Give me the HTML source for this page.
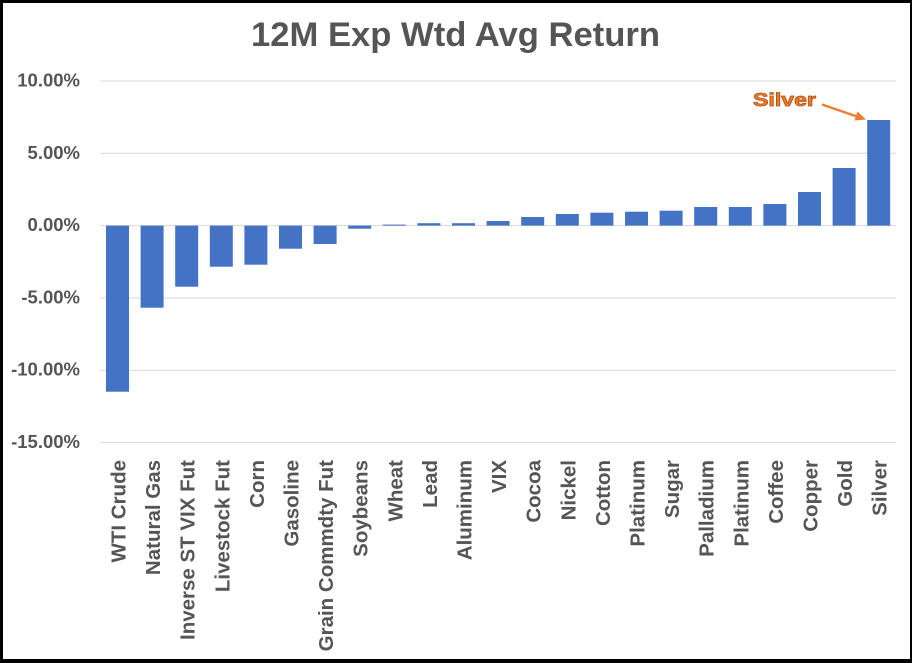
<!DOCTYPE html>
<html>
<head>
<meta charset="utf-8">
<style>
  html,body{margin:0;padding:0;background:#fff;}
  svg{display:block;}
  text{font-family:"Liberation Sans",Arial,sans-serif;font-weight:bold;}
</style>
</head>
<body>
<svg width="912" height="663" viewBox="0 0 912 663" xmlns="http://www.w3.org/2000/svg">
  <rect x="0" y="0" width="912" height="663" fill="#000"/>
  <rect x="3" y="3" width="907" height="656" fill="#fff"/>

  <!-- title -->
  <text x="251" y="46" font-size="34" fill="#555555" textLength="409" lengthAdjust="spacingAndGlyphs">12M Exp Wtd Avg Return</text>

  <!-- gridlines -->
  <g stroke="#d9d9d9" stroke-width="1">
    <line x1="100" y1="81" x2="896" y2="81"/>
    <line x1="100" y1="153.3" x2="896" y2="153.3"/>
    <line x1="100" y1="225.6" x2="896" y2="225.6"/>
    <line x1="100" y1="297.9" x2="896" y2="297.9"/>
    <line x1="100" y1="370.2" x2="896" y2="370.2"/>
    <line x1="100" y1="442.5" x2="896" y2="442.5"/>
  </g>

  <!-- y labels -->
  <g font-size="18.5" fill="#555555" text-anchor="end">
    <text x="80" y="86.5">10.00%</text>
    <text x="80" y="158.8">5.00%</text>
    <text x="80" y="231.1">0.00%</text>
    <text x="80" y="303.4">-5.00%</text>
    <text x="80" y="375.7">-10.00%</text>
    <text x="80" y="448">-15.00%</text>
  </g>

  <!-- bars -->
  <g fill="#4472C4">
    <rect x="106" y="225.6" width="23" height="166.1"/>
    <rect x="140.6" y="225.6" width="23" height="82.1"/>
    <rect x="175.2" y="225.6" width="23" height="61.1"/>
    <rect x="209.8" y="225.6" width="23" height="41.1"/>
    <rect x="244.4" y="225.6" width="23" height="39.1"/>
    <rect x="279" y="225.6" width="23" height="23.1"/>
    <rect x="313.6" y="225.6" width="23" height="18.4"/>
    <rect x="348.2" y="225.6" width="23" height="3.1"/>
    <rect x="382.8" y="224.6" width="23" height="1"/>
    <rect x="417.4" y="223.2" width="23" height="2.4"/>
    <rect x="452" y="223.2" width="23" height="2.4"/>
    <rect x="486.6" y="221" width="23" height="4.6"/>
    <rect x="521.2" y="217" width="23" height="8.6"/>
    <rect x="555.8" y="214" width="23" height="11.6"/>
    <rect x="590.4" y="212.7" width="23" height="12.9"/>
    <rect x="625" y="211.7" width="23" height="13.9"/>
    <rect x="659.6" y="210.7" width="23" height="14.9"/>
    <rect x="694.2" y="207" width="23" height="18.6"/>
    <rect x="728.8" y="207" width="23" height="18.6"/>
    <rect x="763.4" y="204" width="23" height="21.6"/>
    <rect x="798" y="192" width="23" height="33.6"/>
    <rect x="832.6" y="168" width="23" height="57.6"/>
    <rect x="867.2" y="120" width="23" height="105.6"/>
  </g>

  <!-- x labels -->
  <g font-size="20.5" fill="#555555" text-anchor="end">
    <text transform="translate(125.5,460) rotate(-90)">WTI Crude</text>
    <text transform="translate(160.1,460) rotate(-90)">Natural Gas</text>
    <text transform="translate(194.7,460) rotate(-90)">Inverse ST VIX Fut</text>
    <text transform="translate(229.3,460) rotate(-90)">Livestock Fut</text>
    <text transform="translate(263.9,460) rotate(-90)">Corn</text>
    <text transform="translate(298.5,460) rotate(-90)">Gasoline</text>
    <text transform="translate(333.1,460) rotate(-90)">Grain Commdty Fut</text>
    <text transform="translate(367.7,460) rotate(-90)">Soybeans</text>
    <text transform="translate(402.3,460) rotate(-90)">Wheat</text>
    <text transform="translate(436.9,460) rotate(-90)">Lead</text>
    <text transform="translate(471.5,460) rotate(-90)">Aluminum</text>
    <text transform="translate(506.1,460) rotate(-90)">VIX</text>
    <text transform="translate(540.7,460) rotate(-90)">Cocoa</text>
    <text transform="translate(575.3,460) rotate(-90)">Nickel</text>
    <text transform="translate(609.9,460) rotate(-90)">Cotton</text>
    <text transform="translate(644.5,460) rotate(-90)">Platinum</text>
    <text transform="translate(679.1,460) rotate(-90)">Sugar</text>
    <text transform="translate(713.7,460) rotate(-90)">Palladium</text>
    <text transform="translate(748.3,460) rotate(-90)">Platinum</text>
    <text transform="translate(782.9,460) rotate(-90)">Coffee</text>
    <text transform="translate(817.5,460) rotate(-90)">Copper</text>
    <text transform="translate(852.1,460) rotate(-90)">Gold</text>
    <text transform="translate(886.7,460) rotate(-90)">Silver</text>
  </g>

  <!-- Silver annotation -->
  <text x="753" y="106" font-size="18" fill="#ED7D31" stroke="#B85410" stroke-width="0.8" textLength="63" lengthAdjust="spacingAndGlyphs">Silver</text>
  <line x1="822" y1="104.5" x2="857" y2="116.5" stroke="#ED7D31" stroke-width="2.5"/>
  <polygon points="866,119.5 854.5,120.5 857.5,111.5" fill="#ED7D31"/>
</svg>
</body>
</html>
